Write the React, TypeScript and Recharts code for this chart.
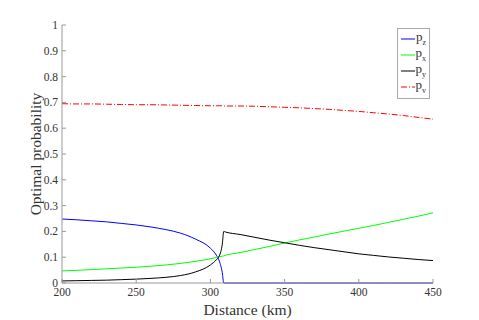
import { LineChart, Line, XAxis, YAxis } from 'recharts';

const distance = [200, 210, 220, 230, 240, 250, 260, 270, 280, 290, 300, 304, 306, 308, 309, 310, 320, 330, 340, 350, 360, 370, 380, 390, 400, 410, 420, 430, 440, 450];

const pZ = [0.248, 0.245, 0.241, 0.237, 0.231, 0.225, 0.217, 0.207, 0.193, 0.17, 0.135, 0.108, 0.085, 0.04, 0, 0, 0, 0, 0, 0, 0, 0, 0, 0, 0, 0, 0, 0, 0, 0];
const pX = [0.047, 0.049, 0.052, 0.055, 0.058, 0.061, 0.065, 0.07, 0.076, 0.084, 0.094, 0.099, 0.102, 0.104, 0.105, 0.107, 0.118, 0.13, 0.142, 0.155, 0.167, 0.178, 0.19, 0.201, 0.212, 0.223, 0.235, 0.247, 0.259, 0.272];
const pY = [0.008, 0.009, 0.01, 0.011, 0.013, 0.015, 0.018, 0.022, 0.029, 0.043, 0.07, 0.09, 0.105, 0.15, 0.2, 0.198, 0.188, 0.177, 0.166, 0.156, 0.146, 0.137, 0.129, 0.121, 0.113, 0.107, 0.101, 0.096, 0.091, 0.087];
const pV = [0.695, 0.694, 0.694, 0.693, 0.692, 0.691, 0.691, 0.69, 0.689, 0.688, 0.687, 0.687, 0.687, 0.687, 0.686, 0.686, 0.686, 0.685, 0.683, 0.681, 0.679, 0.676, 0.673, 0.669, 0.665, 0.66, 0.655, 0.649, 0.642, 0.635];

const xTicks = [200, 250, 300, 350, 400, 450];
const yTicks = [0, 0.1, 0.2, 0.3, 0.4, 0.5, 0.6, 0.7, 0.8, 0.9, 1];

const seriesKeys = ['pz', 'px', 'py', 'pv'];
const seriesSubs = ['z', 'x', 'y', 'v'];
const seriesColors = ['#0000ff', '#00ff00', '#000000', '#ff0000'];
const seriesDash = [undefined, undefined, undefined, '6 2 1 2'];

const data = distance.map((d, i) => ({ d, pz: pZ[i], px: pX[i], py: pY[i], pv: pV[i] }));

const font = '"Liberation Serif", "Times New Roman", serif';
const axisColor = '#999';
const textColor = '#333';

const LegendBox = () => (
  <div
    style={{
      position: 'absolute',
      left: 397,
      top: 28,
      border: '1px solid #aaa',
      background: '#fff',
      padding: '2px 3px 3px 3px',
      color: textColor,
      width: 25,
    }}
  >
    {seriesKeys.map((k, i) => (
      <div key={k} style={{ display: 'flex', alignItems: 'center', height: 16 }}>
        <svg width={15} height={4} style={{ marginRight: 1 }}>
          <line x1={0} y1={2} x2={15} y2={2} stroke={seriesColors[i]} strokeWidth={1} strokeDasharray={seriesDash[i]} />
        </svg>
        <span style={{ fontSize: 13, lineHeight: '13px' }}>
          p<sub style={{ fontSize: 8 }}>{seriesSubs[i]}</sub>
        </span>
      </div>
    ))}
  </div>
);

export default function App() {
  return (
    <div style={{ position: 'absolute', left: 0, top: 0, width: 479, height: 320, background: '#fff', fontFamily: font }}>
      <LineChart width={479} height={320} data={data} margin={{ top: 25, right: 46, bottom: 0, left: 0 }} style={{ fontFamily: font }}>
        <XAxis
          dataKey="d"
          type="number"
          domain={[200, 450]}
          ticks={xTicks}
          height={37}
          stroke={axisColor}
          tickSize={-4}
          tickMargin={9}
          tick={{ fill: textColor, fontSize: 11.5 }}
          label={{ value: 'Distance (km)', position: 'insideBottom', offset: 5, fill: textColor, fontSize: 15.5 }}
        />
        <XAxis
          xAxisId="top"
          dataKey="d"
          type="number"
          orientation="top"
          domain={[200, 450]}
          ticks={xTicks}
          height={0}
          stroke={axisColor}
          tickSize={-4}
          tickFormatter={() => ''}
        />
        <YAxis
          type="number"
          domain={[0, 1]}
          ticks={yTicks}
          width={62}
          stroke={axisColor}
          tickSize={-4}
          tickMargin={8}
          tick={{ fill: textColor, fontSize: 11.5 }}
          label={{ value: 'Optimal probability', angle: -90, position: 'insideLeft', offset: 35, fill: textColor, fontSize: 15.5, style: { textAnchor: 'middle' } }}
        />
        <YAxis
          yAxisId="right"
          type="number"
          orientation="right"
          domain={[0, 1]}
          ticks={yTicks}
          width={0}
          stroke={axisColor}
          tickSize={-4}
          tickFormatter={() => ''}
        />
        {seriesKeys.map((k, i) => (
          <Line
            key={k}
            type="monotone"
            dataKey={k}
            stroke={seriesColors[i]}
            strokeWidth={1}
            strokeDasharray={seriesDash[i]}
            dot={false}
            isAnimationActive={false}
          />
        ))}
      </LineChart>
      <LegendBox />
    </div>
  );
}
